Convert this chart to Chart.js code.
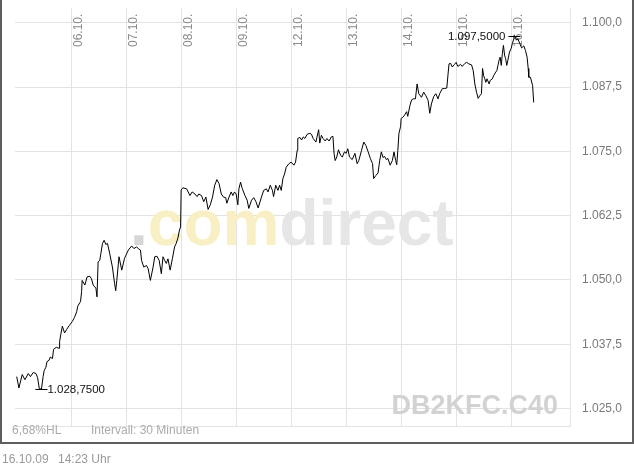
<!DOCTYPE html>
<html>
<head>
<meta charset="utf-8">
<script src="https://cdn.jsdelivr.net/npm/chart.js@4.4.0/dist/chart.umd.min.js"></script>
<style>
  html, body { margin: 0; padding: 0; background: #fff; }
  canvas { display: block; }
</style>
</head>
<body>
<canvas id="chart" width="634" height="466"></canvas>
<script>
// DB2KFC.C40, 30-minute bars from 05.10.09 to 16.10.09
// x = trading days since 05.10. (06.10. = 1), y = price
const dayPos = [
  0.00, 0.04, 0.10, 0.15, 0.21, 0.25, 0.30, 0.35, 0.38, 0.41,
  0.45, 0.48, 0.50, 0.53, 0.55, 0.59, 0.61, 0.65, 0.67, 0.72,
  0.77, 0.78, 0.80, 0.83, 0.87, 0.91, 0.96, 1.01, 1.05, 1.09,
  1.11, 1.16, 1.18, 1.19, 1.24, 1.28, 1.33, 1.36, 1.39, 1.44,
  1.46, 1.48, 1.51, 1.53, 1.56, 1.59, 1.62, 1.65, 1.69, 1.74,
  1.78, 1.80, 1.82, 1.86, 1.91, 1.96, 2.03, 2.09, 2.13, 2.18,
  2.21, 2.25, 2.27, 2.31, 2.36, 2.39, 2.43, 2.48, 2.51, 2.55,
  2.59, 2.63, 2.66, 2.69, 2.72, 2.75, 2.79, 2.83, 2.87, 2.90,
  2.93, 2.96, 2.98, 2.99, 3.02, 3.09, 3.15, 3.19, 3.24, 3.28,
  3.31, 3.36, 3.40, 3.44, 3.48, 3.52, 3.56, 3.60, 3.64, 3.68,
  3.72, 3.76, 3.80, 3.82, 3.86, 3.90, 3.93, 3.96, 3.99, 4.02,
  4.04, 4.07, 4.10, 4.15, 4.19, 4.22, 4.27, 4.31, 4.35, 4.39,
  4.45, 4.49, 4.54, 4.57, 4.61, 4.65, 4.67, 4.71, 4.75, 4.78,
  4.81, 4.84, 4.87, 4.90, 4.95, 4.99, 5.04, 5.07, 5.10, 5.11,
  5.15, 5.18, 5.21, 5.24, 5.28, 5.33, 5.36, 5.39, 5.44, 5.46,
  5.49, 5.51, 5.54, 5.57, 5.61, 5.64, 5.68, 5.72, 5.75, 5.77,
  5.79, 5.82, 5.85, 5.89, 5.92, 5.96, 5.99, 6.02, 6.05, 6.10,
  6.15, 6.19, 6.22, 6.27, 6.31, 6.35, 6.39, 6.43, 6.47, 6.49,
  6.53, 6.57, 6.60, 6.63, 6.66, 6.69, 6.72, 6.75, 6.79, 6.83,
  6.86, 6.89, 6.91, 6.93, 6.95, 6.98, 6.99, 7.02, 7.05, 7.09,
  7.11, 7.15, 7.18, 7.21, 7.25, 7.28, 7.31, 7.36, 7.40, 7.44,
  7.48, 7.51, 7.54, 7.58, 7.62, 7.66, 7.69, 7.74, 7.78, 7.82,
  7.84, 7.86, 7.89, 7.92, 7.96, 7.99, 8.02, 8.07, 8.10, 8.15,
  8.18, 8.22, 8.27, 8.30, 8.33, 8.36, 8.39, 8.42, 8.45, 8.47,
  8.49, 8.51, 8.53, 8.55, 8.59, 8.61, 8.65, 8.67, 8.71, 8.73,
  8.75, 8.77, 8.79, 8.81, 8.83, 8.85, 8.87, 8.89, 8.91, 8.93,
  8.96, 8.99, 9.01, 9.04, 9.05, 9.09, 9.11, 9.15, 9.18, 9.22,
  9.25, 9.28, 9.30, 9.31, 9.34, 9.38, 9.40
];
const price = [
  1031.2, 1029.0, 1031.6, 1030.6, 1031.8, 1031.2, 1032.0, 1031.8, 1031.0, 1028.9,
  1028.75, 1031.2, 1032.4, 1033.0, 1034.1, 1034.4, 1035.0, 1034.7, 1036.5, 1036.9,
  1036.7, 1038.0, 1039.3, 1041.0, 1039.7, 1040.4, 1041.2, 1041.9, 1042.7, 1043.8,
  1044.9, 1045.8, 1047.7, 1049.9, 1049.0, 1050.6, 1050.7, 1050.2, 1049.0, 1048.4,
  1046.7, 1053.5, 1053.8, 1055.1, 1057.1, 1057.7, 1056.9, 1057.1, 1055.2, 1052.5,
  1049.3, 1047.9, 1049.9, 1054.5, 1051.9, 1054.2, 1055.8, 1056.6, 1056.1, 1056.4,
  1056.1, 1055.8, 1053.8, 1052.5, 1052.8, 1052.2, 1049.9, 1052.5, 1054.5, 1054.6,
  1053.8, 1051.2, 1054.5, 1053.8, 1053.2, 1054.1, 1051.9, 1054.1, 1056.4, 1057.1,
  1058.1, 1059.7, 1060.3, 1067.5, 1067.9, 1067.7, 1066.4, 1067.1, 1066.7, 1066.2,
  1066.7, 1066.4, 1065.2, 1066.1, 1063.7, 1064.6, 1066.1, 1068.4, 1069.5, 1068.7,
  1066.7, 1066.1, 1066.0, 1064.9, 1066.1, 1067.1, 1066.4, 1067.1, 1066.7, 1064.6,
  1067.7, 1069.0, 1067.8, 1066.4, 1065.5, 1063.9, 1065.5, 1066.0, 1065.2, 1064.0,
  1066.1, 1067.4, 1067.7, 1067.1, 1068.4, 1067.4, 1066.2, 1068.4, 1067.4, 1068.4,
  1067.4, 1069.7, 1070.6, 1071.9, 1072.6, 1072.9, 1072.3, 1072.9, 1075.2, 1077.5,
  1077.7, 1077.2, 1077.8, 1077.5, 1078.3, 1078.5, 1078.3, 1077.5, 1076.8, 1077.8,
  1079.2, 1076.6, 1078.1, 1077.5, 1077.0, 1077.5, 1077.0, 1077.8, 1077.9, 1074.6,
  1073.2, 1073.9, 1075.3, 1074.2, 1073.9, 1074.9, 1074.6, 1075.5, 1073.9, 1073.4,
  1074.6, 1072.6, 1073.2, 1075.2, 1076.8, 1076.1, 1074.9, 1073.6, 1072.6, 1069.7,
  1070.3, 1070.8, 1073.2, 1074.9, 1073.8, 1074.0, 1073.4, 1073.6, 1072.3, 1073.2,
  1074.9, 1073.2, 1072.4, 1075.2, 1078.5, 1079.8, 1081.4, 1081.6, 1082.0, 1082.7,
  1081.8, 1083.9, 1085.0, 1085.2, 1085.2, 1088.1, 1086.2, 1085.5, 1086.5, 1085.8,
  1084.9, 1082.4, 1084.2, 1085.6, 1086.2, 1085.2, 1086.2, 1087.2, 1087.2, 1087.3,
  1089.7, 1092.0, 1092.1, 1091.4, 1091.9, 1092.3, 1091.5, 1091.9, 1091.5, 1092.1,
  1092.3, 1092.0, 1091.8, 1090.7, 1088.1, 1086.5, 1085.3, 1085.8, 1086.2, 1091.1,
  1089.7, 1089.1, 1088.4, 1089.1, 1088.1, 1088.8, 1089.1, 1089.7, 1090.4, 1090.7,
  1091.7, 1092.7, 1093.3, 1091.7, 1094.0, 1095.6, 1093.7, 1093.0, 1091.7, 1092.7,
  1094.3, 1095.0, 1095.9, 1096.9, 1097.5, 1096.6, 1096.9, 1095.9, 1095.1, 1095.5,
  1094.6, 1093.3, 1091.1, 1089.4, 1089.4, 1087.8, 1084.5
];
const dayTicks = [1, 2, 3, 4, 5, 6, 7, 8, 9];
const dayLabels = ['06.10.', '07.10.', '08.10.', '09.10.', '12.10.', '13.10.', '14.10.', '15.10.', '16.10.'];
const priceTicks = [1025, 1037.5, 1050, 1062.5, 1075, 1087.5, 1100];

const FONT = "'Liberation Sans', Arial, sans-serif";
const GRID = '#e3e3e3';

// german number format: 1.087,5
function fmt(v, digits) {
  const parts = v.toFixed(digits).split('.');
  const int = parts[0].replace(/\B(?=(\d{3})+(?!\d))/g, '.');
  return digits ? int + ',' + parts[1] : int;
}

const decor = {
  id: 'decor',
  beforeDatasetsDraw(chart) {
    const { ctx, chartArea: a, scales: { x } } = chart;
    ctx.save();
    // watermark
    ctx.textBaseline = 'alphabetic';
    ctx.font = 'bold 64px ' + FONT;
    let wx = 130;
    const wy = 245;
    ctx.fillStyle = '#d6d6d6';
    ctx.fillText('.', wx, wy);
    wx += ctx.measureText('.').width;
    ctx.fillStyle = '#f8f0c4';
    ctx.fillText('com', wx, wy);
    wx += ctx.measureText('com').width;
    ctx.fillStyle = '#e6e6e6';
    ctx.fillText('direct', wx, wy);
    ctx.font = 'bold 27px ' + FONT;
    ctx.fillStyle = '#d2d2d2';
    ctx.textAlign = 'right';
    ctx.fillText('DB2KFC.C40', 558, 414);

    // day labels, rotated, inside the plot
    ctx.textAlign = 'left';
    ctx.font = '12px ' + FONT;
    ctx.fillStyle = '#8a8a8a';
    dayTicks.forEach((d, i) => {
      const px = x.getPixelForValue(d);
      ctx.save();
      ctx.translate(px + 10, a.top + 39);
      ctx.rotate(-Math.PI / 2);
      ctx.fillText(dayLabels[i], 0, 0);
      ctx.restore();
    });
    ctx.restore();
  },
  afterDraw(chart) {
    const { ctx, scales: { x, y } } = chart;
    ctx.save();
    // low / high markers
    const lo = Math.min(...price), hi = Math.max(...price);
    const iLo = price.indexOf(lo), iHi = price.indexOf(hi);
    ctx.strokeStyle = '#000';
    ctx.lineWidth = 1;
    ctx.fillStyle = '#111';
    ctx.font = '11.5px ' + FONT;
    ctx.textBaseline = 'middle';
    [[iLo, lo, 'left'], [iHi, hi, 'right']].forEach(([i, v, side]) => {
      const px = x.getPixelForValue(dayPos[i]);
      const py = Math.round(y.getPixelForValue(v)) + 0.5;
      ctx.beginPath();
      ctx.moveTo(px - 6, py);
      ctx.lineTo(px + 6, py);
      ctx.stroke();
      ctx.textAlign = side;
      ctx.fillText(fmt(v, 4), side === 'left' ? px + 6 : px - 9, py);
    });

    // footer texts
    ctx.textBaseline = 'alphabetic';
    ctx.textAlign = 'left';
    ctx.font = '12px ' + FONT;
    ctx.fillStyle = '#ababab';
    ctx.fillText('6,68%HL', 12, 434);
    ctx.fillText('Intervall: 30 Minuten', 91, 434);
    ctx.fillStyle = '#9a9a9a';
    ctx.fillText('16.10.09', 2, 463);
    ctx.fillText('14:23 Uhr', 58, 463);

    // frame
    ctx.fillStyle = '#5e5e5e';
    ctx.fillRect(0, 0, 2, 444);
    ctx.fillRect(632, 0, 2, 444);
    ctx.fillRect(0, 442, 634, 2);
    ctx.restore();
  }
};

new Chart(document.getElementById('chart'), {
  type: 'line',
  data: {
    datasets: [{
      data: dayPos.map((d, i) => ({ x: d, y: price[i] })),
      borderColor: '#000',
      borderWidth: 1,
      pointRadius: 0,
      tension: 0,
      fill: false
    }]
  },
  options: {
    responsive: false,
    animation: false,
    layout: { padding: { left: 15, top: 8, right: 0, bottom: 0 } },
    plugins: { legend: { display: false }, tooltip: { enabled: false } },
    scales: {
      x: {
        type: 'linear',
        min: -0.031,
        max: 10.06,
        afterBuildTicks: s => { s.ticks = dayTicks.map(v => ({ value: v })); },
        afterFit: s => { s.height = 40; s.paddingLeft = 0; s.paddingRight = 0; },
        grid: { color: GRID, drawTicks: false },
        border: { display: true, color: GRID },
        ticks: { display: false }
      },
      y: {
        position: 'right',
        min: 1021.6,
        max: 1102.86,
        afterBuildTicks: s => { s.ticks = priceTicks.map(v => ({ value: v })); },
        afterFit: s => { s.width = 64; s.paddingTop = 0; s.paddingBottom = 0; },
        grid: { color: GRID, drawTicks: false },
        border: { display: true, color: GRID },
        ticks: {
          padding: 12,
          color: '#7a7a7a',
          font: { family: FONT, size: 12 },
          autoSkip: false,
          callback: v => fmt(v, 1)
        }
      }
    }
  },
  plugins: [decor]
});
</script>
</body>
</html>
